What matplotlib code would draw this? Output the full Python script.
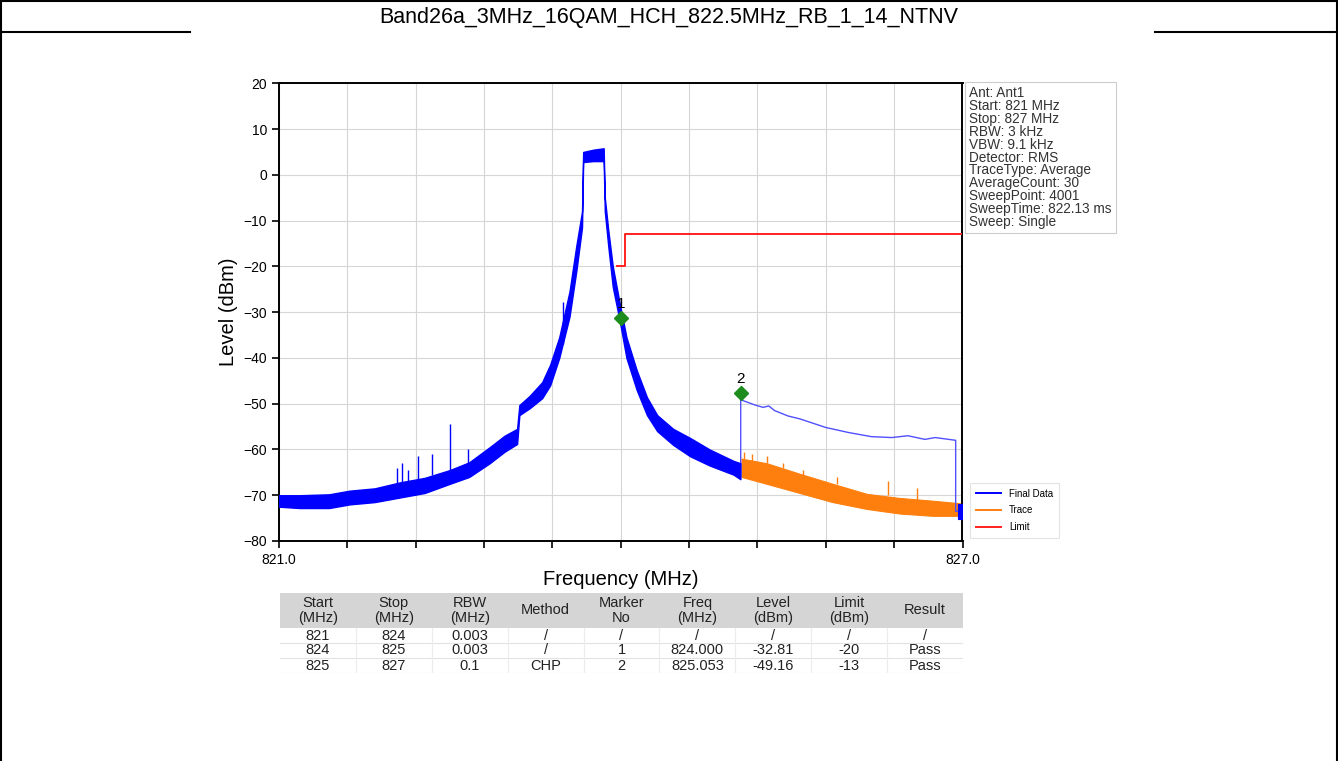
import matplotlib.pyplot as plt
from matplotlib.lines import Line2D
from matplotlib.patches import Rectangle

plt.rcParams['font.family'] = ['Liberation Sans', 'DejaVu Sans']

title = 'Band26a_3MHz_16QAM_HCH_822.5MHz_RB_1_14_NTNV'

# measured trace, read as a low / high envelope of the noisy band (MHz, dBm)
blue_freq = [821.00, 821.18, 821.44, 821.62, 821.84, 822.06, 822.28, 822.50, 822.67,
             822.85, 822.98, 823.09, 823.11, 823.20, 823.31, 823.38, 823.46, 823.55,
             823.61, 823.66, 823.67, 823.76, 823.85, 823.86, 823.89, 823.93, 823.99,
             824.05, 824.14, 824.23, 824.32, 824.46, 824.61, 824.78, 824.99, 825.05]
blue_low = [-72.5, -72.8, -72.8, -72.0, -71.5, -70.5, -69.5, -67.5, -66.0,
            -63.0, -60.5, -58.8, -52.5, -51.0, -48.8, -46.0, -40.0, -31.0,
            -21.0, -11.5, 2.8, 3.0, 3.0, -8.0, -15.5, -24.5, -31.8,
            -40.0, -47.0, -52.5, -56.0, -59.0, -61.5, -63.5, -65.5, -66.5]
blue_high = [-70.0, -70.0, -69.8, -69.0, -68.5, -67.2, -66.2, -64.5, -62.8,
             -59.5, -57.0, -55.5, -50.3, -48.3, -45.3, -41.5, -35.5, -25.5,
             -15.5, -8.0, 5.0, 5.5, 5.8, -5.0, -12.0, -20.0, -28.0,
             -35.5, -42.7, -48.6, -52.5, -55.5, -57.5, -60.0, -62.5, -63.0]

blue_spike_freq = [822.04, 822.08, 822.13, 822.22, 822.34, 822.50, 822.66, 823.49]
blue_spike_base = [-67.5, -67.2, -67.0, -66.5, -65.5, -64.5, -63.0, -37.0]
blue_spike_top = [-64.0, -63.0, -64.5, -61.5, -61.0, -54.5, -60.0, -27.8]

orange_freq = [825.06, 825.28, 825.57, 825.86, 826.16, 826.45, 826.74, 827.00]
orange_low = [-66.0, -67.5, -69.5, -71.5, -73.0, -74.0, -74.5, -74.5]
orange_high = [-62.0, -63.0, -65.3, -67.5, -69.7, -70.6, -71.2, -71.8]
orange_spike_freq = [825.08, 825.15, 825.28, 825.42, 825.60, 825.90, 826.35, 826.60]
orange_spike_base = [-62.0, -62.5, -63.0, -64.0, -65.5, -67.5, -70.0, -71.0]
orange_spike_top = [-60.5, -61.0, -61.5, -63.0, -64.5, -66.0, -67.0, -68.5]

# CHP result (thin "Final Data" line over 825-827 MHz)
chp_freq = [825.053, 825.053, 825.07, 825.18, 825.25, 825.30, 825.35, 825.47, 825.57,
            825.80, 826.00, 826.20, 826.38, 826.52, 826.67, 826.76, 826.94, 826.94, 827.0]
chp_level = [-66.0, -47.7, -49.3, -50.3, -50.8, -50.5, -51.5, -52.7, -53.3,
             -55.2, -56.3, -57.2, -57.4, -57.0, -57.8, -57.4, -58.0, -73.5, -73.5]
end_freq = [826.96, 827.0]
end_low = [-75.3, -75.3]
end_high = [-72.0, -72.0]

limit_freq = [823.97, 824.04, 824.04, 827.0]
limit_level = [-20, -20, -13, -13]

marker_no = ['1', '2']
marker_freq = [824.000, 825.053]
marker_level = [-31.3, -47.7]

info_lines = ['Ant: Ant1', 'Start: 821 MHz', 'Stop: 827 MHz', 'RBW: 3 kHz', 'VBW: 9.1 kHz',
              'Detector: RMS', 'TraceType: Average', 'AverageCount: 30', 'SweepPoint: 4001',
              'SweepTime: 822.13 ms', 'Sweep: Single']

table_header = ['Start\n(MHz)', 'Stop\n(MHz)', 'RBW\n(MHz)', 'Method', 'Marker\nNo',
                'Freq\n(MHz)', 'Level\n(dBm)', 'Limit\n(dBm)', 'Result']
table_rows = [['821', '824', '0.003', '/', '/', '/', '/', '/', '/'],
              ['824', '825', '0.003', '/', '1', '824.000', '-32.81', '-20', 'Pass'],
              ['825', '827', '0.1', 'CHP', '2', '825.053', '-49.16', '-13', 'Pass']]

W, H = 1338, 761
fig = plt.figure(figsize=(W / 100, H / 100), dpi=100)

# document frame around the picture
for x in (1.0 / W, 1 - 1.5 / W):
    fig.add_artist(Line2D([x, x], [0, 1], color='black', lw=1.5))
fig.add_artist(Line2D([0, 1], [1 - 1.0 / H, 1 - 1.0 / H], color='black', lw=1.5))
fig.add_artist(Line2D([0, 190 / W], [1 - 32 / H] * 2, color='black', lw=1.5))
fig.add_artist(Line2D([1155 / W, 1], [1 - 32 / H] * 2, color='black', lw=1.5))
fig.text(0.5, 1 - 17 / H, title, ha='center', va='center', fontsize=15.5)

ax = fig.add_axes([279 / W, 1 - 541 / H, 683.5 / W, 457.7 / H])
ax.set_xlim(821, 827)
ax.set_ylim(-80, 20)

xt = [821 + 0.6 * i for i in range(11)]
ax.set_xticks(xt)
ax.set_xticklabels(['821.0'] + [''] * 9 + ['827.0'])
ax.set_yticks(range(-80, 21, 10))
ax.tick_params(labelsize=10, length=5, width=1.2, direction='out')
ax.grid(True, color='#d6d6d6', lw=0.8)
ax.set_axisbelow(True)
for sp in ax.spines.values():
    sp.set_linewidth(1.4)
ax.set_xlabel('Frequency (MHz)', fontsize=14.5)
ax.xaxis.set_label_coords(0.5, -0.064)
ax.set_ylabel('Level (dBm)', fontsize=14.5, labelpad=4)

blue = '#0000ff'
orange = '#ff7f0e'
red = '#ff2020'

ax.fill_between(orange_freq, orange_low, orange_high, color=orange, lw=0.8, zorder=2)
ax.vlines(orange_spike_freq, orange_spike_base, orange_spike_top, color=orange, lw=1, zorder=2)
ax.plot(chp_freq, chp_level, color='#5050ff', lw=1, zorder=3)
ax.fill_between(end_freq, end_low, end_high, color=blue, lw=0.8, zorder=3)
ax.fill_between(blue_freq, blue_low, blue_high, color=blue, lw=1.0, edgecolor=blue, zorder=3)
ax.vlines(blue_spike_freq, blue_spike_base, blue_spike_top, color=blue, lw=1, zorder=3)
ax.plot(limit_freq, limit_level, color=red, lw=1.4, zorder=3)

ax.plot(marker_freq, marker_level, 'D', color='#1c8c1c', ms=7, zorder=5)
for no, f, lv in zip(marker_no, marker_freq, marker_level):
    ax.annotate(no, (f, lv), xytext=(0, 5), textcoords='offset points',
                ha='center', va='bottom', fontsize=11, zorder=6)

handles = [Line2D([], [], color=blue, lw=1.4), Line2D([], [], color=orange, lw=1.4),
           Line2D([], [], color=red, lw=1.4)]
leg = ax.legend(handles, ['Final Data', 'Trace', 'Limit'], loc='lower left',
                bbox_to_anchor=(1.004, -0.004), fontsize=7, handlelength=2.6,
                frameon=True, fancybox=False, borderpad=0.6, labelspacing=0.7)
leg.get_frame().set_edgecolor('#dddddd')
leg.get_frame().set_linewidth(0.8)

fig.text(969 / W, 1 - 86 / H, '\n'.join(info_lines), ha='left', va='top',
         fontsize=9.8, linespacing=0.9, color='#333333',
         bbox=dict(boxstyle='square,pad=0.3', fc='white', ec='#cccccc', lw=0.8))

# result table under the plot
tab = fig.add_axes([280 / W, 1 - 673 / H, 683 / W, 80 / H])
tab.set_xlim(0, 9)
tab.set_ylim(80, 0)
tab.axis('off')
tab.add_patch(Rectangle((0, 0), 9, 35, fc='#d5d5d5', ec='none'))
narrow = ['Liberation Sans Narrow', 'Liberation Sans']
for j, h in enumerate(table_header):
    tab.text(j + 0.5, 17.5, h, ha='center', va='center', fontsize=10.5,
             linespacing=1.1, family=narrow, color='#222222')
for i, row in enumerate(table_rows):
    yc = 35 + 15 * i + 7.5
    tab.axhline(35 + 15 * (i + 1), color='#e2e2e2', lw=0.8)
    for j, v in enumerate(row):
        tab.text(j + 0.5, yc, v, ha='center', va='center', fontsize=10.5,
                 family=narrow, color='#222222')
for j in range(1, 9):
    tab.plot([j, j], [35, 80], color='#ececec', lw=0.8)

fig.savefig('out.png', dpi=100)
